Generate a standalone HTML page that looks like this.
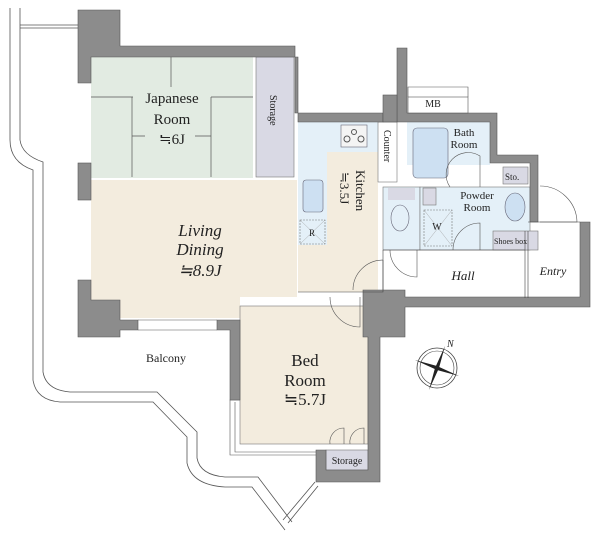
<!DOCTYPE html>
<html><head><meta charset="utf-8"><style>
html,body{margin:0;padding:0;background:#fff}
svg{display:block}
text{font-family:"Liberation Serif",serif;fill:#222}
</style></head><body>
<svg width="600" height="541" viewBox="0 0 600 541" xmlns="http://www.w3.org/2000/svg">
<g fill="none" stroke="#555" stroke-width="0.8">
<path d="M10 8 V140 Q10 162 33 170 V380 Q36 400 60 402 H153 L187 437 V463 Q192 485 225 487 H252 L285 530"/>
<path d="M20 8 V140 Q22 155 43 162 V372 Q46 390 70 392 H157 L197 432 V458 Q200 475 225 477 H258 L292 522"/>
<path d="M20 25 H78 M20 28 H78"/>
<path d="M283 520 L315 482 M288 523 L318 486"/>
</g>
<rect x="91" y="57" width="162" height="121" fill="#e2ebe2"/>
<rect x="256" y="57" width="38" height="120" fill="#d9d9e4" stroke="#777" stroke-width="0.6"/>
<path d="M91 180 H297 V297 H240 V318 H119 V300 H91 Z" fill="#f3ecde"/>
<rect x="240" y="306" width="128" height="138" fill="#f3ecde" stroke="#777" stroke-width="0.6"/>
<rect x="298" y="122" width="80" height="128" fill="#e4f0f8"/>
<rect x="327" y="152" width="51" height="140" fill="#f3ecde"/>
<rect x="298" y="245" width="29" height="47" fill="#f3ecde"/>
<rect x="378" y="122" width="19" height="60" fill="#fff" stroke="#777" stroke-width="0.6"/>
<rect x="407" y="122" width="83" height="43" fill="#e4f0f8"/>
<rect x="383" y="187" width="37" height="63" fill="#e4f0f8" stroke="#777" stroke-width="0.6"/>
<rect x="420" y="187" width="110" height="63" fill="#e4f0f8" stroke="#777" stroke-width="0.6"/>
<rect x="503" y="167" width="25" height="17" fill="#d9d9e4" stroke="#777" stroke-width="0.6"/>
<rect x="493" y="231" width="45" height="19" fill="#d9d9e4" stroke="#777" stroke-width="0.6"/>
<rect x="423" y="188" width="13" height="17" fill="#d9d9e4" stroke="#777" stroke-width="0.6"/>
<rect x="326" y="450" width="42" height="20" fill="#d9d9e4" stroke="#777" stroke-width="0.6"/>
<rect x="300" y="220" width="25" height="24" fill="none" stroke="#777" stroke-width="0.6" stroke-dasharray="2 1"/>
<rect x="424" y="210" width="28" height="36" fill="none" stroke="#777" stroke-width="0.6" stroke-dasharray="2 1"/>
<path d="M300 220 L325 244 M325 220 L300 244 M424 210 L452 246 M452 210 L424 246" stroke="#999" stroke-width="0.4"/>
<g stroke="#555" stroke-width="0.7">
<path d="M91 97 H133 M132 97 V177 M132 136 H145 M195 136 H211 M211 97 V177 M211 97 H253 M171 57 V87"/>
</g>
<rect x="413" y="128" width="35" height="50" rx="4" fill="#cde0f2" stroke="#667" stroke-width="0.6"/>
<rect x="303" y="180" width="20" height="32" rx="3" fill="#cde0f2" stroke="#667" stroke-width="0.6"/>
<rect x="341" y="125" width="26" height="22" fill="#f4f4f4" stroke="#667" stroke-width="0.6"/>
<circle cx="347" cy="139" r="3" fill="none" stroke="#555"/><circle cx="361" cy="139" r="3" fill="none" stroke="#555"/><circle cx="354" cy="132" r="2.5" fill="none" stroke="#555"/>
<ellipse cx="400" cy="218" rx="9" ry="13" fill="#e4f0f8" stroke="#667" stroke-width="0.6"/>
<rect x="388" y="188" width="27" height="12" fill="#d9d9e4"/>
<ellipse cx="515" cy="207" rx="10" ry="14" fill="#cde0f2" stroke="#667" stroke-width="0.6"/>
<g fill="none" stroke="#555" stroke-width="0.6">
<path d="M353 290 A30 30 0 0 1 383 260 M383 260 V290"/>
<path d="M390 250 A27 27 0 0 0 417 277 V250"/>
<path d="M453 250 A27 27 0 0 1 480 223 V250"/>
<path d="M450 187 A22 22 0 0 1 480 156 V187"/>
<path d="M540 186 A37 37 0 0 1 577 222 H540"/>
<path d="M330 297 A30 30 0 0 0 360 327 V297"/>
<path d="M330 444 A14 14 0 0 1 344 428 V444 M350 444 A14 14 0 0 1 364 428 V444"/>
<path d="M240 400 H230 V455 H316 M235 402 V452 H316"/>
<path d="M138 320 H217 M138 330 H217"/>
</g>
<g fill="#8c8c8c" stroke="#555" stroke-width="0.6">
<path d="M78 10 H120 V46 H295 V113 H383 V122 H298 V57 H91 V83 H78 Z"/>
<rect x="78" y="163" width="13" height="37"/>
<path d="M78 280 H91 V300 H120 V320 H138 V330 H120 V337 H78 Z"/>
<path d="M217 320 H240 V400 H230 V330 H217 Z"/>
<path d="M363 290 H405 V297 H580 V222 H590 V307 H405 V337 H380 V482 H316 V450 H326 V470 H368 V337 H363 Z"/>
<path d="M397 48 H407 V113 H497 V155 H538 V222 H530 V163 H490 V122 H397 Z"/>
<rect x="383" y="95" width="14" height="27"/>
</g>
<rect x="408" y="97" width="60" height="16" fill="#fff" stroke="#555" stroke-width="0.6"/>
<path d="M408 97 V87 H468 V97" fill="none" stroke="#555" stroke-width="0.6"/>
<g stroke="#444" stroke-width="0.6" fill="none">
<path d="M383 250 H525 M298 292 H383 V250"/>
<path d="M525 231 V298 M528 231 V298 M528 222 H580"/>
</g>
<g transform="translate(437,368)">
<circle r="20" fill="none" stroke="#444" stroke-width="0.8"/><circle r="17" fill="none" stroke="#444" stroke-width="0.6"/>
<path d="M8 -22 L2 0 L-8 22 L-2 0 Z" fill="#222"/>
<path d="M-22 -8 L0 -2 L22 8 L0 2 Z" fill="#222"/>
<text x="10" y="-21" font-size="10" font-style="italic">N</text>
</g>
<text font-size="15" text-anchor="middle"><tspan x="172" y="103">Japanese</tspan><tspan x="172" y="124">Room</tspan><tspan x="172" y="144">≒6J</tspan></text>
<text font-size="10" transform="translate(270,95) rotate(90)">Storage</text>
<text font-size="17" font-style="italic" text-anchor="middle"><tspan x="200" y="236">Living</tspan><tspan x="200" y="255">Dining</tspan><tspan x="200" y="276">≒8.9J</tspan></text>
<text font-size="17" text-anchor="middle"><tspan x="305" y="366">Bed</tspan><tspan x="305" y="386">Room</tspan><tspan x="305" y="405">≒5.7J</tspan></text>
<text font-size="13" transform="translate(356,170) rotate(90)">Kitchen</text>
<text font-size="13" transform="translate(340,172) rotate(90)">≒3.5J</text>
<text font-size="10" transform="translate(384,130) rotate(90)">Counter</text>
<text font-size="11" text-anchor="middle"><tspan x="464" y="136">Bath</tspan><tspan x="464" y="148">Room</tspan></text>
<text font-size="11" text-anchor="middle"><tspan x="477" y="199">Powder</tspan><tspan x="477" y="211">Room</tspan></text>
<text font-size="10" x="433" y="107" text-anchor="middle">MB</text>
<text font-size="9" x="505" y="180">Sto.</text>
<text font-size="8" x="494" y="244">Shoes box</text>
<text font-size="10" x="437" y="230" text-anchor="middle">W</text>
<text font-size="9" x="312" y="236" text-anchor="middle">R</text>
<text font-size="13" font-style="italic" x="463" y="280" text-anchor="middle">Hall</text>
<text font-size="12" font-style="italic" x="553" y="275" text-anchor="middle">Entry</text>
<text font-size="12" x="166" y="362" text-anchor="middle">Balcony</text>
<text font-size="10" x="347" y="464" text-anchor="middle">Storage</text>
</svg>
</body></html>
